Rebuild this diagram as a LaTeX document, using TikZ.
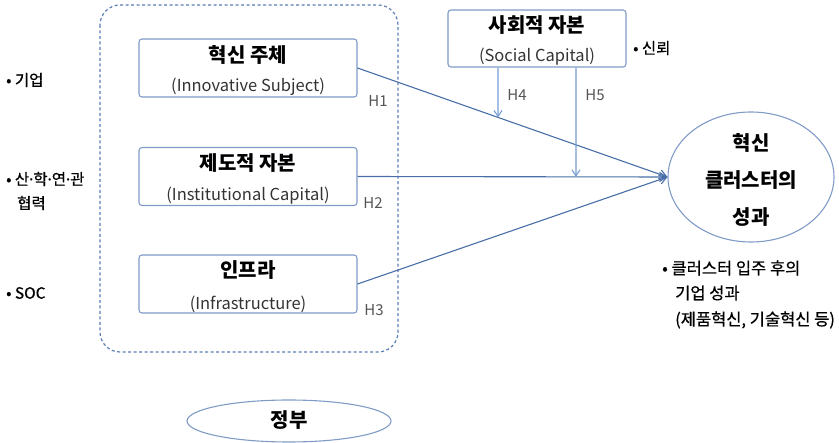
\documentclass[tikz,border=0pt]{standalone}
\usepackage{fontspec}
\setmainfont{Noto Sans CJK KR}
\newfontfamily\notefont[FakeBold=0.6]{Noto Sans CJK KR}
\newfontfamily\dotfont[FakeBold=0.6]{Noto Sans}
\newcommand{\mdot}{{\dotfont ·}}
\usetikzlibrary{shapes.geometric,arrows.meta,calc}
\definecolor{boxc}{RGB}{128,155,198}
\definecolor{linec}{RGB}{72,110,168}
\definecolor{modc}{RGB}{118,158,214}
\definecolor{dashc}{RGB}{90,125,182}
\definecolor{hgray}{RGB}{85,85,85}
\begin{document}
\begin{tikzpicture}[x=1pt,y=-1pt,
  factor/.style={draw=boxc,line width=1.1pt,rounded corners=3pt,minimum width=218pt,minimum height=58pt,inner sep=0},
  ktitle/.style={font=\fontsize{20}{22}\selectfont\bfseries,inner sep=0},
  etitle/.style={font=\fontsize{16.5}{18}\selectfont,text=black!80,inner sep=0},
  note/.style={font=\notefont\fontsize{15.5}{18}\selectfont,inner sep=0,anchor=west},
  rnote/.style={note,font=\notefont\fontsize{16.5}{18}\selectfont},
  hlab/.style={font=\fontsize{15}{17}\selectfont,text=hgray,inner sep=0},
  mainarrow/.style={draw=linec,line width=1.1pt,-{Straight Barb[length=7pt,width=9pt]}},
  modarrow/.style={draw=modc,line width=1.1pt,-{Straight Barb[length=6pt,width=8pt]}}
]
\useasboundingbox (0,0) rectangle (839,443);
% dashed frame
\draw[dashc,line width=1.2pt,dash pattern=on 3pt off 2.5pt,rounded corners=20pt] (100,5) rectangle (398,352);
% factor boxes
\node[factor] (b1) at (248,68) {};
\node[factor] (b2) at (248,176.5) {};
\node[factor] (b3) at (248,284) {};
\node[factor,minimum width=178pt,minimum height=57pt] (soc) at (537,38.5) {};
\node[ktitle] (t1) at (248,55) {혁신 주체};
\node[etitle] (e1) at (248,87) {(Innovative Subject)};
\node[ktitle] (t2) at (248,163) {제도적 자본};
\node[etitle] (e2) at (248,196) {(Institutional Capital)};
\node[ktitle] (t3) at (248,270) {인프라};
\node[etitle] (e3) at (248,304) {(Infrastructure)};
\node[ktitle] (t4) at (537,25) {사회적 자본};
\node[etitle] (e4) at (537,57) {(Social Capital)};
% result ellipse
\node[ellipse,draw=boxc,line width=1.1pt,minimum width=166pt,minimum height=130pt] (res) at (751,177) {};
\node[ktitle] (r1) at (751,143) {혁신};
\node[ktitle] (r2) at (751,180) {클러스터의};
\node[ktitle] (r3) at (751,217) {성과};
% government ellipse
\node[ellipse,draw=boxc,line width=1.1pt,minimum width=204pt,minimum height=42pt] (gov) at (289,421) {};
\node[ktitle] (g1) at (289,420) {정부};
% arrows
\draw[mainarrow] (b1.east) -- (res.west);
\draw[mainarrow] (b2.east) -- (res.west);
\draw[mainarrow] (b3.east) -- (res.west);
\coordinate (h4top) at (soc.south -| 498,0);
\coordinate (h5top) at (soc.south -| 576,0);
\coordinate (h4end) at (intersection of b1.east--res.west and 498,0--498,400);
\coordinate (h5end) at (intersection of b2.east--res.west and 576,0--576,400);
\draw[modarrow] (h4top) -- (h4end);
\draw[modarrow] (h5top) -- (h5end);
% H labels
\node[hlab] (h1) at (378,101) {H1};
\node[hlab] (h2) at (373,203) {H2};
\node[hlab] (h3) at (374,310) {H3};
\node[hlab] (h4) at (517,95) {H4};
\node[hlab] (h5) at (595,95) {H5};
% side notes
\node[note] (n1) at (6,80) {• 기업};
\node[note] (n2) at (6,179) {• 산\mdot 학\mdot 연\mdot 관};
\node[note] (n2b) at (17,203) {협력};
\node[note] (n3) at (6,293) {• SOC};
\node[note] (n4) at (633,48) {• 신뢰};
\node[rnote] (n5) at (662,268) {• 클러스터 입주 후의};
\node[rnote] (n5b) at (675,293) {기업 성과};
\node[rnote] (n5c) at (675,320) {(제품혁신, 기술혁신 등)};
\end{tikzpicture}
\end{document}
